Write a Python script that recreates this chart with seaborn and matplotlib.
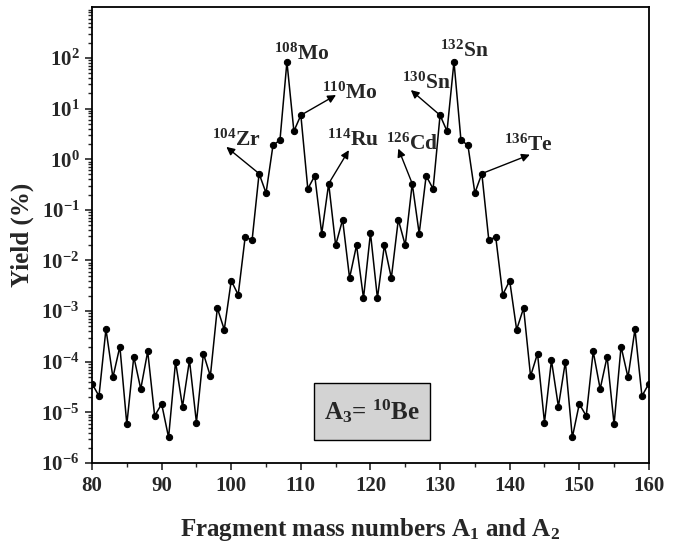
import math
import pandas as pd
import matplotlib
matplotlib.use('Agg')
import matplotlib.pyplot as plt
import matplotlib.ticker as mticker
from matplotlib.patches import Rectangle
import seaborn as sns

# ============ DataSet ============
mass_numbers = list(range(80, 161))
yield_pct = [3.7e-5, 2.1e-5, 4.4e-4, 4.9e-5, 2.0e-4, 5.8e-6, 1.26e-4, 2.9e-5, 1.6e-4, 8.5e-6,
             1.47e-5, 3.2e-6, 1.0e-4, 1.3e-5, 1.07e-4, 6.3e-6, 1.45e-4, 5.2e-5, 1.15e-3, 4.3e-4,
             4.0e-3, 2.1e-3, 2.9e-2, 2.55e-2, 0.52, 0.215, 1.89, 2.38, 84.0, 3.58,
             7.4, 0.26, 0.47, 0.034, 0.33, 0.020, 0.064, 4.5e-3, 0.020, 1.8e-3,
             0.035,
             1.8e-3, 0.020, 4.5e-3, 0.064, 0.020, 0.33, 0.034, 0.47, 0.26, 7.4,
             3.58, 84.0, 2.38, 1.89, 0.215, 0.52, 2.55e-2, 2.9e-2, 2.1e-3, 4.0e-3,
             4.3e-4, 1.15e-3, 5.2e-5, 1.45e-4, 6.3e-6, 1.07e-4, 1.3e-5, 1.0e-4, 3.2e-6, 1.47e-5,
             8.5e-6, 1.6e-4, 2.9e-5, 1.26e-4, 5.8e-6, 2.0e-4, 4.9e-5, 4.4e-4, 2.1e-5, 3.7e-5]

# y axis decades shown with labels
y_decades = [-6, -5, -4, -3, -2, -1, 0, 1, 2]

# labelled fragments: text, label position, arrow start (point), arrow tip
label_text = [r'$^{104}$Zr', r'$^{108}$Mo', r'$^{110}$Mo', r'$^{114}$Ru',
              r'$^{126}$Cd', r'$^{130}$Sn', r'$^{132}$Sn', r'$^{136}$Te']
label_x = [97.2, 106.2, 113.0, 113.7, 122.3, 124.5, 130.0, 139.2]
label_y = [1.83, 93.8, 15.9, 1.83, 1.55, 25.0, 106.0, 1.44]
arrow_from_x = [104, None, 110, 114, 126, 130, None, 136]
arrow_from_y = [0.52, None, 7.4, 0.33, 0.33, 7.4, None, 0.52]
arrow_to_x = [99.3, None, 115.05, 116.9, 124.0, 125.8, None, 142.9]
arrow_to_y = [1.75, None, 18.5, 1.51, 1.62, 23.2, None, 1.23]

df = pd.DataFrame({'A': mass_numbers, 'Yield': yield_pct})

# ============ Style ============
sns.set_theme(style='ticks')
plt.rcParams['font.family'] = ['Liberation Serif', 'DejaVu Serif']
plt.rcParams['font.weight'] = 'bold'
plt.rcParams['mathtext.fontset'] = 'custom'
plt.rcParams['mathtext.rm'] = 'Liberation Serif:bold'
plt.rcParams['mathtext.bf'] = 'Liberation Serif:bold'
plt.rcParams['mathtext.default'] = 'bf'

fig = plt.figure(figsize=(6.94, 5.46), dpi=100)
ax = fig.add_axes([0.1326, 0.152, 0.8024, 0.8346])

sns.lineplot(data=df, x='A', y='Yield', ax=ax, color='black', linewidth=1.1,
             marker='o', markersize=4.5, markeredgecolor='black', markerfacecolor='black')

ax.set_yscale('log')
ax.set_xlim(80, 160)
ax.set_ylim(1e-6, 1e3)

# ============ Axes / ticks ============
ax.xaxis.set_major_locator(mticker.MultipleLocator(10))
ax.xaxis.set_minor_locator(mticker.MultipleLocator(5))
ax.yaxis.set_major_locator(mticker.FixedLocator([10.0 ** d for d in y_decades]))
ax.yaxis.set_minor_locator(mticker.LogLocator(base=10, subs=range(2, 10), numticks=20))
ax.yaxis.set_minor_formatter(mticker.NullFormatter())
ax.yaxis.set_major_formatter(mticker.FuncFormatter(
    lambda v, p: r'$\mathbf{10^{%d}}$' % round(math.log10(v))))

ax.tick_params(which='major', direction='out', length=5, width=1.2, labelsize=15,
               top=False, right=False, pad=4)
ax.tick_params(which='minor', direction='out', length=3, width=1.0, top=False, right=False)
for lbl in ax.get_xticklabels():
    lbl.set_fontweight('bold')

for s in ax.spines.values():
    s.set_linewidth(1.3)
    s.set_color('black')

ax.set_xlabel(r'Fragment mass numbers A$_\mathbf{1}$ and A$_\mathbf{2}$', fontsize=18,
              fontweight='bold', labelpad=15)
ax.set_ylabel('Yield (%)', fontsize=18, fontweight='bold', labelpad=5)

# ============ Labels and arrows ============
for i, txt in enumerate(label_text):
    ax.text(label_x[i], label_y[i], txt, fontsize=15.5, fontweight='bold',
            ha='left', va='baseline')
    if arrow_from_x[i] is not None:
        ax.annotate('', xy=(arrow_to_x[i], arrow_to_y[i]),
                    xytext=(arrow_from_x[i], arrow_from_y[i]),
                    arrowprops=dict(arrowstyle='-|>', color='black', lw=1.0,
                                    mutation_scale=12, shrinkA=0, shrinkB=0))

# ============ Inset box ============
ax.add_patch(Rectangle((0.3986, 0.0504), 0.2083, 0.125, transform=ax.transAxes,
                       facecolor='#d3d3d3', edgecolor='black', linewidth=1.0, zorder=3))
ax.text(0.503, 0.114, r'A$_\mathbf{3}$= $^{10}$Be', transform=ax.transAxes,
        fontsize=18, fontweight='bold', ha='center', va='center', zorder=4)

fig.savefig('out.png', dpi=100)
